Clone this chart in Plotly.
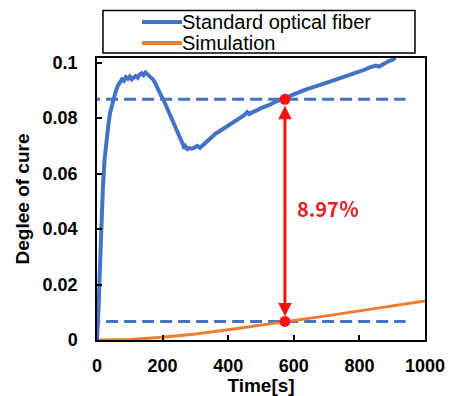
import plotly.graph_objects as go

# ---- data ----
fiber_t = [0, 2, 5, 8, 11, 14, 18, 23, 29, 35, 40, 46, 52, 58, 64, 70, 76, 82, 88, 94,
           100, 106, 112, 118, 124, 130, 136, 142, 148, 154, 160, 166, 172, 178, 184, 190,
           196, 202, 208, 214, 220, 226, 232, 238, 244, 250, 256, 262, 266, 270, 276, 282,
           290, 298, 306, 314, 322, 330, 338, 346, 354, 362, 370, 380, 390, 400, 410, 420,
           430, 440, 450, 458, 464, 472, 480, 490, 500, 510, 520, 530, 540, 550, 560, 573,
           590, 610, 630, 650, 670, 690, 710, 730, 750, 770, 790, 810, 830, 850, 860, 875,
           890, 900, 910]
fiber_v = [0.0, 0.004, 0.012, 0.023, 0.034, 0.044, 0.055, 0.065, 0.073, 0.078, 0.082, 0.085,
           0.088, 0.090, 0.0918, 0.0928, 0.0940, 0.0935, 0.0948, 0.0942,
           0.0950, 0.0940, 0.0945, 0.0952, 0.0946, 0.0958, 0.0962, 0.0955, 0.0965, 0.0958,
           0.0955, 0.0948, 0.0938, 0.0925, 0.0908, 0.0893,
           0.0880, 0.0868, 0.0852, 0.0838, 0.0822, 0.0808, 0.0790, 0.0772, 0.0755, 0.0740,
           0.0722, 0.0705, 0.0690, 0.0698, 0.0688, 0.0692,
           0.0690, 0.0695, 0.0700, 0.0693, 0.0702, 0.0712, 0.0720, 0.0730, 0.0738, 0.0745,
           0.0750, 0.0758, 0.0765, 0.0775, 0.0780, 0.0790,
           0.0795, 0.0805, 0.0812, 0.0822, 0.0815, 0.0820, 0.0826, 0.0830, 0.0836, 0.0840,
           0.0846, 0.0850, 0.0857, 0.0862, 0.0866, 0.0870,
           0.0882, 0.0890, 0.0900, 0.0908, 0.0915, 0.0925, 0.0932, 0.0940, 0.0948, 0.0955,
           0.0962, 0.0972, 0.0982, 0.0990, 0.0986, 0.0998,
           0.1006, 0.1010, 0.1018]

sim_t = [0, 100, 200, 300, 400, 500, 573, 700, 800, 900, 1000]
sim_v = [0.0, 0.0002, 0.0010, 0.0022, 0.0037, 0.0053, 0.0065, 0.0087, 0.0105, 0.0122, 0.0141]

marker_t = 573
level_hi = 0.0868
level_lo = 0.0067
dash_t = [-27, 941]
diff_label = "8.97％"
label_t = 604
label_v = 0.0476

series_names = ["Standard optical fiber", "Simulation"]
blue = "#4472C4"
orange = "#ED7D31"
red = "#FF1010"

x_ticks = [0, 200, 400, 600, 800, 1000]
y_ticks = [0, 0.02, 0.04, 0.06, 0.08, 0.1]
y_tick_text = ["0", "0.02", "0.04", "0.06", "0.08", "0.1"]

fig = go.Figure()
fig.add_trace(go.Scatter(x=sim_t, y=sim_v, mode="lines", name=series_names[1],
                         line=dict(color=orange, width=3), showlegend=False))
fig.add_trace(go.Scatter(x=fiber_t, y=fiber_v, mode="lines", name=series_names[0],
                         line=dict(color=blue, width=4), showlegend=False))
fig.add_trace(go.Scatter(x=[marker_t, marker_t], y=[level_hi, level_lo], mode="markers",
                         marker=dict(color=red, size=11), showlegend=False, cliponaxis=False))

for lv in (level_hi, level_lo):
    fig.add_shape(type="line", xref="x", yref="y", x0=dash_t[0], x1=dash_t[1], y0=lv, y1=lv,
                  line=dict(color=blue, width=3, dash="12px,6px"), layer="between")

# double-headed arrow
fig.add_annotation(x=marker_t, y=level_lo, ax=marker_t, ay=level_hi, xref="x", yref="y",
                   axref="x", ayref="y", text="", showarrow=True, arrowside="end+start",
                   arrowhead=2, startarrowhead=2, arrowsize=0.9, startarrowsize=0.9,
                   arrowwidth=3, arrowcolor=red, standoff=5, startstandoff=5)
fig.add_annotation(x=label_t, y=label_v, xref="x", yref="y", text="<b>%s</b>" % diff_label,
                   showarrow=False, xanchor="left", yanchor="middle",
                   font=dict(family="Noto Sans CJK JP", size=20, color="#E8202A"))

# manual legend (box, line samples, labels)
PX_L, PX_W, PX_B, PX_H = 97, 328, 340.3, 282.6
def px(x):
    return (x - PX_L) / PX_W
def py(y):
    return (PX_B - y) / PX_H

fig.add_shape(type="rect", xref="paper", yref="paper", x0=px(103), x1=px(415), y0=py(52.7), y1=py(10),
              line=dict(color="black", width=1.5), fillcolor="white")
for i, (nm, col) in enumerate(zip(series_names, [blue, orange])):
    yy = py(21.7 + 21 * i)
    fig.add_shape(type="line", xref="paper", yref="paper", x0=px(142), x1=px(182), y0=yy, y1=yy,
                  line=dict(color=col, width=4))
    fig.add_annotation(x=px(182), y=yy, xref="paper", yref="paper", text=nm, showarrow=False,
                       xanchor="left", yanchor="middle", xshift=-2,
                       font=dict(family="Arial", size=20, color="black"))

axis_common = dict(showline=True, linecolor="black", linewidth=1.5, mirror=True,
                   ticks="inside", ticklen=5, tickwidth=1.5, tickcolor="black",
                   showgrid=False, zeroline=False,
                   tickfont=dict(family="Arial", size=18, color="black", weight="bold"))

fig.update_xaxes(range=[0, 1000], tickvals=x_ticks, ticktext=[str(v) for v in x_ticks],
                 title=dict(text="<b>Time[s]</b>", font=dict(family="Arial", size=19, color="black"),
                            standoff=5),
                 ticklabelstandoff=9, **axis_common)
fig.update_yaxes(range=[0, 0.1017], tickvals=y_ticks, ticktext=y_tick_text,
                 title=dict(text="<b>Deglee of cure</b>", font=dict(family="Arial", size=19, color="black"),
                            standoff=8),
                 ticklabelstandoff=14, **axis_common)

fig.update_layout(width=454, height=396, margin=dict(l=97, r=29, t=58, b=56, autoexpand=False),
                  plot_bgcolor="white", paper_bgcolor="white", showlegend=False)

fig.write_html("out.html")
